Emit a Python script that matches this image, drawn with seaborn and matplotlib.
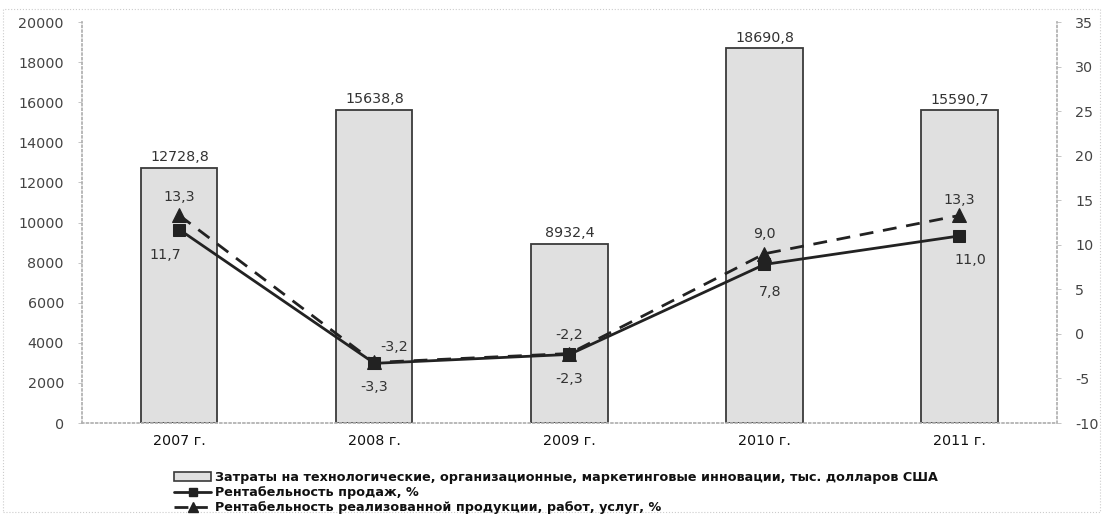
import matplotlib
matplotlib.use("Agg")
import matplotlib.pyplot as plt
import seaborn as sns
import pandas as pd
import numpy as np
from matplotlib.lines import Line2D
from matplotlib.patches import Patch, Rectangle

years = ["2007 г.", "2008 г.", "2009 г.", "2010 г.", "2011 г."]
costs = [12728.8, 15638.8, 8932.4, 18690.8, 15590.7]
sales_profit = [11.7, -3.3, -2.3, 7.8, 11.0]
product_profit = [13.3, -3.2, -2.2, 9.0, 13.3]

legend_labels = [
    "Затраты на технологические, организационные, маркетинговые инновации, тыс. долларов США",
    "Рентабельность продаж, %",
    "Рентабельность реализованной продукции, работ, услуг, %",
]

def fmt(v):
    return f"{v:.1f}".replace(".", ",")

sns.set_theme(style="white")
plt.rcParams["font.family"] = ["DejaVu Sans"]
plt.rcParams["axes.unicode_minus"] = False

FS = 10.3
fig = plt.figure(figsize=(11.03, 5.14), dpi=100)
ax = fig.add_axes([0.0743, 0.177, 0.884, 0.780])

df = pd.DataFrame({"year": years, "cost": costs})
sns.barplot(data=df, x="year", y="cost", ax=ax, color="#e0e0e0",
            edgecolor="#3a3a3a", linewidth=1.3, width=0.39, saturation=1)
ax.set_ylim(0, 20000)
ax.set_yticks(np.arange(0, 20001, 2000))
ax.set_xlabel("")
ax.set_ylabel("")
ax.set_xlim(-0.5, 4.5)

for p, v in zip(ax.patches, costs):
    ax.text(p.get_x() + p.get_width() / 2, v + 180, fmt(v), ha="center",
            va="bottom", fontsize=FS, color="#333333")

ax2 = ax.twinx()
ldf = pd.DataFrame({"year": years, "sales": sales_profit, "prod": product_profit})
sns.lineplot(data=ldf, x="year", y="prod", ax=ax2, sort=False, color="#222222",
             linestyle=(0, (5, 3.5)), linewidth=2, marker="^", markersize=10,
             markeredgecolor="#222222")
sns.lineplot(data=ldf, x="year", y="sales", ax=ax2, sort=False, color="#222222",
             linewidth=2, marker="s", markersize=8, markeredgecolor="#222222")
ax2.set_ylim(-10, 35)
ax2.set_yticks(np.arange(-10, 36, 5))
ax2.set_xlabel("")
ax2.set_ylabel("")
ax2.grid(False)
ax.grid(False)

prod_off = [(0, 8), (14, 6), (0, 8), (0, 9), (0, 6)]
sales_off = [(-10, -13), (0, -12), (0, -13), (4, -15), (8, -12)]
for i in range(5):
    ax2.annotate(fmt(product_profit[i]), (i, product_profit[i]),
                 xytext=prod_off[i], textcoords="offset points", ha="center",
                 va="bottom", fontsize=FS, color="#333333")
    ax2.annotate(fmt(sales_profit[i]), (i, sales_profit[i]),
                 xytext=sales_off[i], textcoords="offset points", ha="center",
                 va="top", fontsize=FS, color="#333333")

ax.spines["top"].set_visible(False)
ax2.spines["top"].set_visible(False)
ax.spines["right"].set_visible(False)
ax2.spines["left"].set_visible(False)
ax2.spines["bottom"].set_visible(False)
for sp in (ax.spines["left"], ax.spines["bottom"], ax2.spines["right"]):
    sp.set_color("#b0b0b0")
    sp.set_linestyle(":")

ax.tick_params(axis="y", labelsize=FS, colors="#bbbbbb", labelcolor="#444444",
               length=3, left=True, width=0.6, pad=10)
ax.tick_params(axis="x", labelsize=FS, labelcolor="#111111", length=0, pad=8)
ax2.tick_params(axis="y", labelsize=FS, colors="#bbbbbb", labelcolor="#444444",
                length=3, right=True, width=0.6, pad=10)

fig.patches.append(Rectangle((0.003, 0.003), 0.994, 0.98, transform=fig.transFigure,
                             fill=False, edgecolor="#cccccc", linestyle=":", linewidth=0.8))

handles = [
    Patch(facecolor="#e0e0e0", edgecolor="#3a3a3a", linewidth=1.2),
    Line2D([0], [0], color="#222222", lw=2, marker="s", markersize=6),
    Line2D([0], [0], color="#222222", lw=2, linestyle=(0, (5, 2)), marker="^", markersize=7),
]
leg = fig.legend(handles, legend_labels, loc="lower left", bbox_to_anchor=(0.150, -0.018),
                 frameon=False, fontsize=9.2, handlelength=2.9, handletextpad=0.3,
                 labelspacing=0.17, borderpad=0.2)
for t in leg.get_texts():
    t.set_fontweight("bold")
    t.set_color("#111111")

fig.savefig("out.png", dpi=100)
